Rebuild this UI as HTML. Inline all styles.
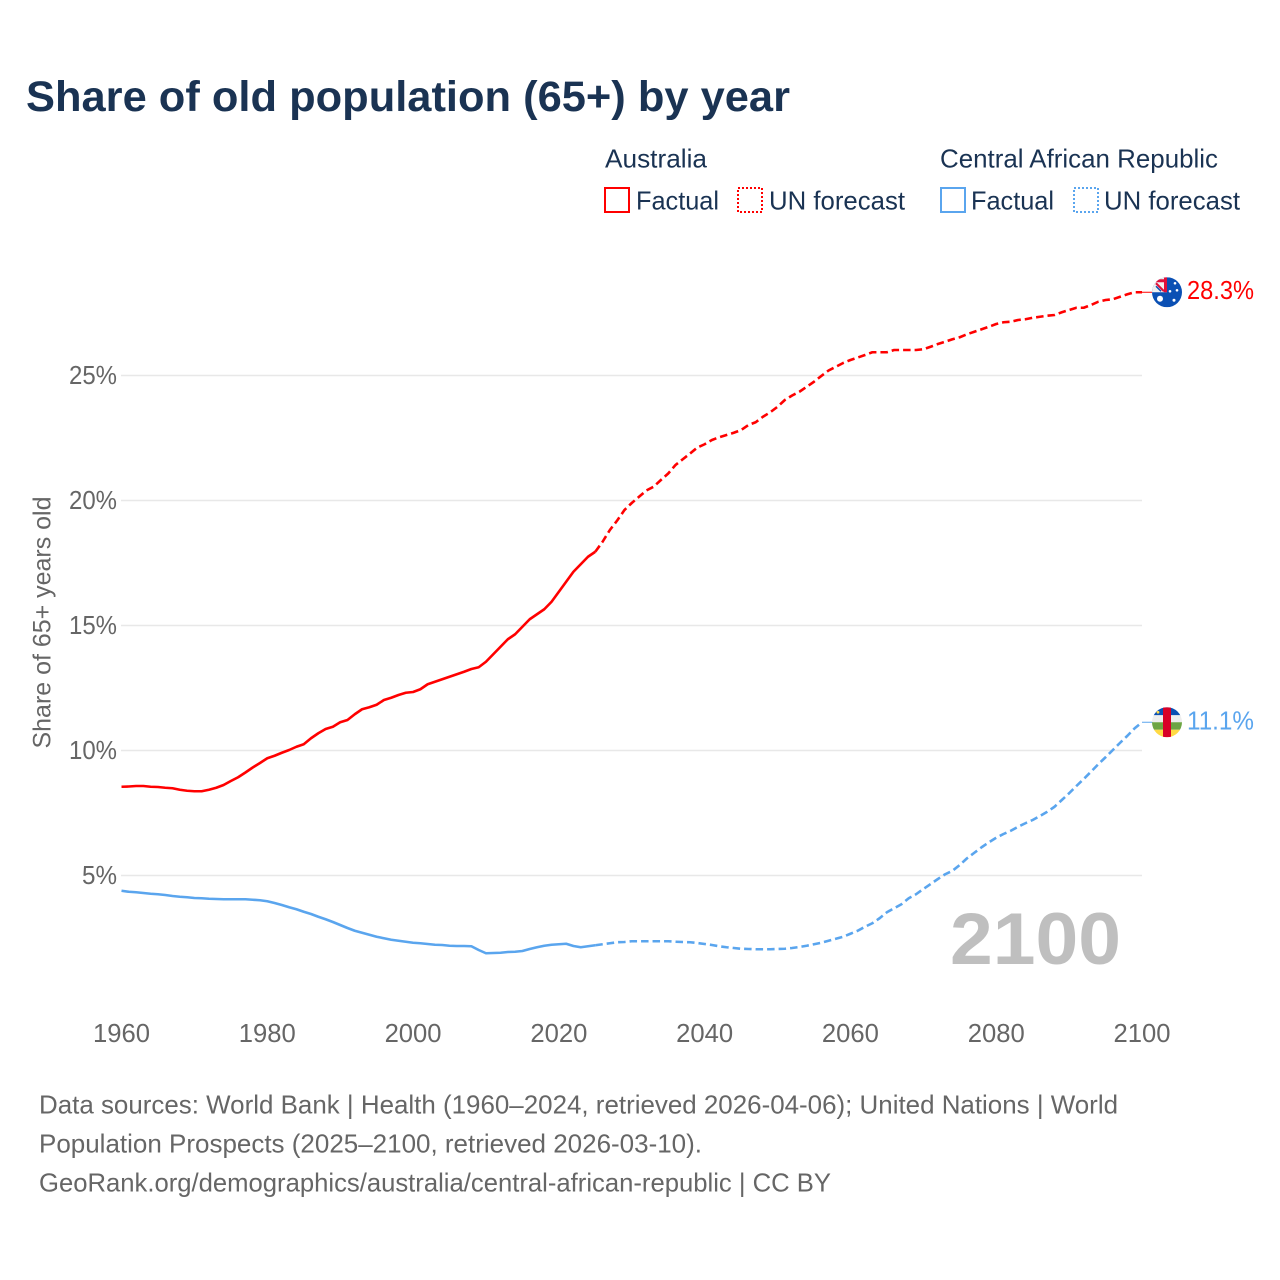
<!DOCTYPE html>
<html lang="en">
<head>
<meta charset="utf-8">
<title>Share of old population (65+) by year</title>
<style>
html,body{margin:0;padding:0;background:#fff;}
svg{display:block;font-family:"Liberation Sans",sans-serif;}
</style>
</head>
<body>
<svg id="chart" xmlns="http://www.w3.org/2000/svg" width="1280" height="1280" viewBox="0 0 1280 1280">
  <defs>
    <clipPath id="flag-clip"><circle cx="0" cy="0" r="15"/></clipPath>
  </defs>
  <rect width="1280" height="1280" fill="#fff"/>
  <text x="26" y="111" font-size="43" font-weight="700" fill="#1a3353" textLength="764" lengthAdjust="spacingAndGlyphs">Share of old population (65+) by year</text>

  <g font-size="26" fill="#1a3353">
    <text x="605" y="167.500" textLength="102" lengthAdjust="spacingAndGlyphs">Australia</text>
    <text x="940" y="167.500" textLength="278" lengthAdjust="spacingAndGlyphs">Central African Republic</text>
    <rect x="605" y="188" width="24" height="24" fill="none" stroke="#ff0000" stroke-width="2"/>
    <text x="636" y="209.500" textLength="83" lengthAdjust="spacingAndGlyphs">Factual</text>
    <rect x="738" y="188" width="24" height="24" fill="none" stroke="#ff0000" stroke-width="2" stroke-dasharray="2 2"/>
    <text x="769" y="209.500" textLength="136" lengthAdjust="spacingAndGlyphs">UN forecast</text>
    <rect x="941" y="188" width="24" height="24" fill="none" stroke="#5aa5ee" stroke-width="2"/>
    <text x="971" y="209.500" textLength="83" lengthAdjust="spacingAndGlyphs">Factual</text>
    <rect x="1074" y="188" width="24" height="24" fill="none" stroke="#5aa5ee" stroke-width="2" stroke-dasharray="2 2"/>
    <text x="1104" y="209.500" textLength="136" lengthAdjust="spacingAndGlyphs">UN forecast</text>
  </g>

  <g id="grid"></g>
  <g id="y-axis"></g>
  <g id="x-axis"></g>
  <text transform="translate(50.500 622.500) rotate(-90)" text-anchor="middle" font-size="25" fill="#666" textLength="252" lengthAdjust="spacingAndGlyphs">Share of 65+ years old</text>
  <text id="year-label" x="950" y="964" font-size="73" font-weight="700" fill="#bfbfbf" textLength="171" lengthAdjust="spacingAndGlyphs"></text>
  <g id="series"></g>

  <g id="flag-au">
    <g clip-path="url(#flag-clip)">
      <rect x="-15" y="-15" width="30" height="30" fill="#0b50b4"/>
      <rect x="-15" y="-15" width="15" height="15" fill="#f0f0f0"/>
      <rect x="-15" y="-13" width="15" height="3" fill="#e0103a"/>
      <rect x="-3" y="-15" width="3" height="15" fill="#e0103a"/>
      <path d="M-11 -9L-3 -1" stroke="#e0103a" stroke-width="2"/>
      <path d="M-11 -6L-6 -1" stroke="#0b50b4" stroke-width="1.5"/>
      <circle cx="-7" cy="6.500" r="3" fill="#fff"/>
      <circle cx="3" cy="-1" r="1.300" fill="#fff"/>
      <circle cx="8" cy="-9" r="1.300" fill="#fff"/>
      <circle cx="10" cy="-2" r="1.300" fill="#fff"/>
      <circle cx="7" cy="8" r="1.500" fill="#fff"/>
    </g>
  </g>
  <g id="flag-car">
    <g clip-path="url(#flag-clip)">
      <rect x="-15" y="-15" width="30" height="8" fill="#0b50b4"/>
      <rect x="-15" y="-7" width="30" height="7" fill="#eeeeee"/>
      <rect x="-15" y="0" width="30" height="7.500" fill="#6da544"/>
      <rect x="-15" y="7.500" width="30" height="7.500" fill="#ffda44"/>
      <rect x="-4" y="-15" width="8" height="30" fill="#d80027"/>
      <circle cx="-9" cy="-10" r="1.400" fill="#ffda44"/>
    </g>
  </g>
  <text id="value-au" x="1187" font-size="26" fill="#ff0000" textLength="67" lengthAdjust="spacingAndGlyphs"></text>
  <text id="value-car" x="1187" font-size="26" fill="#5aa5ee" textLength="67" lengthAdjust="spacingAndGlyphs"></text>

  <g font-size="26" fill="#666">
    <text x="39" y="1113.500" textLength="1079" lengthAdjust="spacingAndGlyphs">Data sources: World Bank | Health (1960–2024, retrieved 2026-04-06); United Nations | World</text>
    <text x="39" y="1152.500" textLength="663" lengthAdjust="spacingAndGlyphs">Population Prospects (2025–2100, retrieved 2026-03-10).</text>
    <text x="39" y="1191.500" textLength="792" lengthAdjust="spacingAndGlyphs">GeoRank.org/demographics/australia/central-african-republic | CC BY</text>
  </g>
</svg>
<script>
const firstYear = 1960;
const forecastStartYear = 2025;
const xTicks = [1960, 1980, 2000, 2020, 2040, 2060, 2080, 2100];
const yTicks = [5, 10, 15, 20, 25];
const australiaShare = [
  8.55,8.56,8.58,8.58,8.55,8.54,8.51,8.49,8.43,8.39,
  8.37,8.37,8.43,8.51,8.62,8.78,8.93,9.12,9.32,9.5,
  9.69,9.79,9.91,10.02,10.15,10.25,10.49,10.69,10.86,10.95,
  11.13,11.22,11.45,11.65,11.73,11.83,12.02,12.11,12.22,12.31,
  12.34,12.45,12.65,12.75,12.85,12.95,13.05,13.15,13.26,13.33,
  13.55,13.85,14.15,14.45,14.65,14.95,15.25,15.45,15.65,15.95,
  16.35,16.75,17.15,17.45,17.75,17.95,18.35,18.82,19.2,19.62,
  19.9,20.15,20.4,20.55,20.82,21.08,21.42,21.65,21.88,22.12,
  22.25,22.42,22.53,22.62,22.71,22.82,23.02,23.13,23.35,23.53,
  23.75,24.02,24.2,24.35,24.55,24.75,24.98,25.2,25.35,25.5,
  25.62,25.72,25.82,25.93,25.93,25.93,26.02,26.02,26.02,26.02,
  26.05,26.15,26.26,26.35,26.45,26.53,26.65,26.75,26.85,26.95,
  27.06,27.13,27.15,27.22,27.25,27.31,27.35,27.39,27.42,27.53,
  27.62,27.71,27.71,27.82,27.95,28.02,28.05,28.15,28.25,28.33,
  28.33
];
const carShare = [
  4.39,4.35,4.33,4.3,4.27,4.25,4.22,4.18,4.15,4.13,
  4.1,4.09,4.07,4.06,4.05,4.05,4.05,4.05,4.03,4.01,
  3.97,3.9,3.82,3.73,3.65,3.55,3.46,3.35,3.25,3.14,
  3.02,2.9,2.79,2.71,2.63,2.55,2.49,2.43,2.39,2.35,
  2.31,2.29,2.26,2.23,2.22,2.19,2.18,2.18,2.17,2.02,
  1.89,1.9,1.91,1.94,1.95,1.98,2.06,2.13,2.19,2.23,
  2.25,2.27,2.18,2.13,2.17,2.21,2.25,2.29,2.33,2.34,
  2.37,2.37,2.37,2.37,2.37,2.37,2.35,2.34,2.33,2.3,
  2.26,2.22,2.17,2.13,2.1,2.07,2.06,2.05,2.05,2.05,
  2.06,2.07,2.1,2.14,2.19,2.25,2.31,2.39,2.47,2.55,
  2.67,2.79,2.95,3.09,3.29,3.53,3.69,3.85,4.09,4.25,
  4.46,4.66,4.86,5.05,5.19,5.42,5.69,5.91,6.13,6.33,
  6.51,6.66,6.79,6.95,7.09,7.22,7.38,7.55,7.75,8.02,
  8.29,8.58,8.86,9.15,9.45,9.73,10.02,10.31,10.59,10.89,
  11.13
];

const NS = 'http://www.w3.org/2000/svg';
const lastYear = firstYear + australiaShare.length - 1;
function xScale(year) { return 121.5 + (year - 1960) * (1142 - 121.5) / 140; }
function yScale(value) { return 1000.5 - value * 25; }
function make(tag, parent) {
  const el = document.createElementNS(NS, tag);
  parent.appendChild(el);
  return el;
}
function pathFor(values, from, to) {
  let d = '';
  for (let i = 0; i < values.length; i++) {
    const yr = firstYear + i;
    if (yr < from || yr > to) continue;
    d += (d ? 'L' : 'M') + xScale(yr).toFixed(2) + ' ' + yScale(values[i]).toFixed(2);
  }
  return d;
}

const grid = document.getElementById('grid');
const yAxis = document.getElementById('y-axis');
yTicks.forEach(function (t) {
  const line = make('line', grid);
  
  
  line.setAttribute('x1', 121);
  line.setAttribute('x2', 1142);
  line.setAttribute('y1', yScale(t));
  line.setAttribute('y2', yScale(t));
  line.setAttribute('stroke', '#e8e8e8');
  line.setAttribute('stroke-width', '1.5');
  const label = make('text', yAxis);
  
  
  label.setAttribute('x', 117);
  label.setAttribute('y', yScale(t) + 8.5);
  label.setAttribute('text-anchor', 'end');
  label.setAttribute('font-size', '26');
  label.setAttribute('fill', '#666');
  label.setAttribute('textLength', t < 10 ? '35' : '48');
  label.setAttribute('lengthAdjust', 'spacingAndGlyphs');
  label.textContent = t + '%';
});

const xAxis = document.getElementById('x-axis');
xTicks.forEach(function (t) {
  const label = make('text', xAxis);
  
  
  label.setAttribute('x', xScale(t));
  label.setAttribute('y', 1042);
  label.setAttribute('text-anchor', 'middle');
  label.setAttribute('font-size', '26');
  label.setAttribute('fill', '#666');
  label.setAttribute('textLength', '57');
  label.setAttribute('lengthAdjust', 'spacingAndGlyphs');
  label.textContent = t;
});

document.getElementById('year-label').textContent = lastYear;

const seriesGroup = document.getElementById('series');
function styleLine(el, color) {
  el.setAttribute('fill', 'none');
  el.setAttribute('stroke', color);
  el.setAttribute('stroke-width', '2.6');
  el.setAttribute('stroke-linejoin', 'round');
}
function lastValue(values) { return values[values.length - 1]; }

const auFactual = make('path', seriesGroup);


auFactual.setAttribute('d', pathFor(australiaShare, firstYear, forecastStartYear));
styleLine(auFactual, '#ff0000');

const auForecast = make('path', seriesGroup);


auForecast.setAttribute('d', pathFor(australiaShare, forecastStartYear, lastYear));
styleLine(auForecast, '#ff0000');
auForecast.setAttribute('stroke-dasharray', '7.5 4');

const carFactual = make('path', seriesGroup);


carFactual.setAttribute('d', pathFor(carShare, firstYear, forecastStartYear));
styleLine(carFactual, '#5aa5ee');

const carForecast = make('path', seriesGroup);


carForecast.setAttribute('d', pathFor(carShare, forecastStartYear, lastYear));
styleLine(carForecast, '#5aa5ee');
carForecast.setAttribute('stroke-dasharray', '7.5 4');

const auLeader = make('line', seriesGroup);


auLeader.setAttribute('x1', xScale(lastYear));
auLeader.setAttribute('x2', 1153);
auLeader.setAttribute('y1', yScale(lastValue(australiaShare)));
auLeader.setAttribute('y2', yScale(lastValue(australiaShare)));
auLeader.setAttribute('stroke', '#ff0000');
auLeader.setAttribute('stroke-width', '1');

const carLeader = make('line', seriesGroup);


carLeader.setAttribute('x1', xScale(lastYear));
carLeader.setAttribute('x2', 1153);
carLeader.setAttribute('y1', yScale(lastValue(carShare)));
carLeader.setAttribute('y2', yScale(lastValue(carShare)));
carLeader.setAttribute('stroke', '#5aa5ee');
carLeader.setAttribute('stroke-width', '1');

document.getElementById('flag-au').setAttribute('transform', 'translate(1167 ' + yScale(lastValue(australiaShare)) + ')');
document.getElementById('flag-car').setAttribute('transform', 'translate(1167 ' + yScale(lastValue(carShare)) + ')');
const valueAu = document.getElementById('value-au');
valueAu.setAttribute('y', yScale(lastValue(australiaShare)) + 6.5);
valueAu.textContent = lastValue(australiaShare).toFixed(1) + '%';
const valueCar = document.getElementById('value-car');
valueCar.setAttribute('y', yScale(lastValue(carShare)) + 7);
valueCar.textContent = lastValue(carShare).toFixed(1) + '%';
</script>
</body>
</html>
